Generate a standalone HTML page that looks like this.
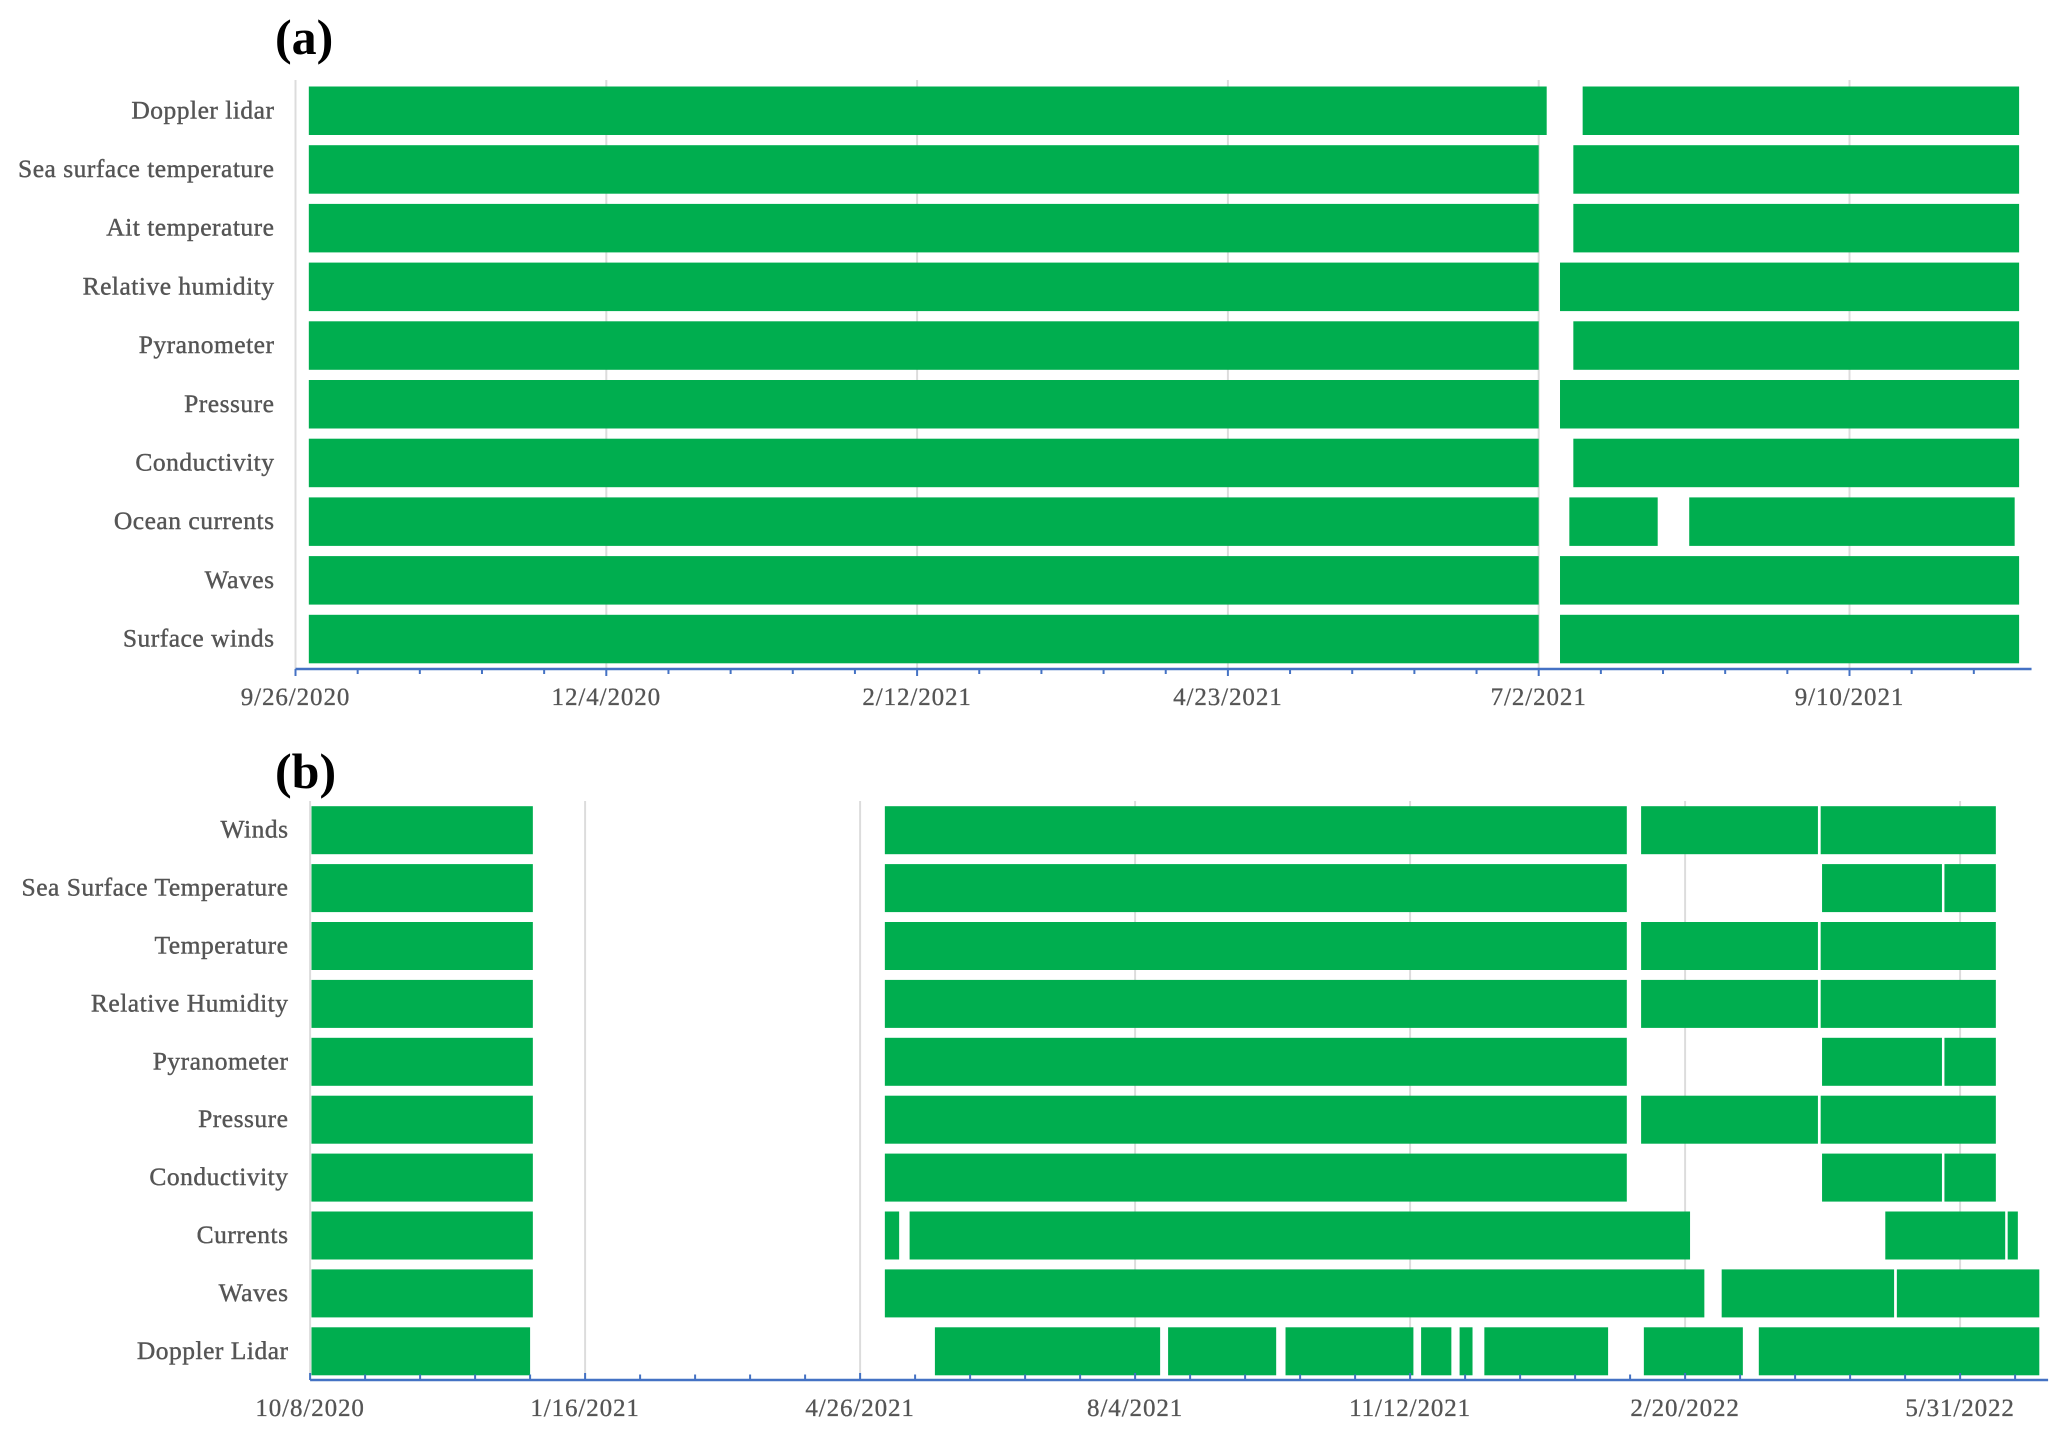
<!DOCTYPE html>
<html>
<head>
<meta charset="utf-8">
<title>Sensor data availability</title>
<style>
html,body{margin:0;padding:0;background:#fff;}
svg{display:block;}
text{font-family:"Liberation Serif",serif;}
</style>
</head>
<body>
<svg id="chart" xmlns="http://www.w3.org/2000/svg" width="2067" height="1438" viewBox="0 0 2067 1438"></svg>
<script>
// Panel (a) data: spans are days since the first axis date
const categoriesA = ["Doppler lidar","Sea surface temperature","Ait temperature","Relative humidity","Pyranometer","Pressure","Conductivity","Ocean currents","Waves","Surface winds"];
const spansA = [
  [[3,281.8],[289.9,388.2]],
  [[3,280],[287.8,388.2]],
  [[3,280],[287.8,388.2]],
  [[3,280],[284.8,388.2]],
  [[3,280],[287.8,388.2]],
  [[3,280],[284.8,388.2]],
  [[3,280],[287.8,388.2]],
  [[3,280],[286.9,306.8],[313.9,387.2]],
  [[3,280],[284.8,388.2]],
  [[3,280],[284.8,388.2]]
];
const tickLabelsA = ["9/26/2020","12/4/2020","2/12/2021","4/23/2021","7/2/2021","9/10/2021"];
const tickDaysA = [0,70,140,210,280,350];
const minorStepA = 14;
const axisMaxA = 391;

// Panel (b) data
const categoriesB = ["Winds","Sea Surface Temperature","Temperature","Relative Humidity","Pyranometer","Pressure","Conductivity","Currents","Waves","Doppler Lidar"];
const spansB = [
  [[0.5,81],[209,478.8],[484,548.3],[549.3,613]],
  [[0.5,81],[209,478.8],[549.8,593.4],[594.3,613]],
  [[0.5,81],[209,478.8],[484,548.3],[549.3,613]],
  [[0.5,81],[209,478.8],[484,548.3],[549.3,613]],
  [[0.5,81],[209,478.8],[549.8,593.4],[594.3,613]],
  [[0.5,81],[209,478.8],[484,548.3],[549.3,613]],
  [[0.5,81],[209,478.8],[549.8,593.4],[594.3,613]],
  [[0.5,81],[209,214.2],[218,501.8],[572.8,616.4],[617.3,621]],
  [[0.5,81],[209,507],[513.3,576],[577,628.8]],
  [[0.5,80],[227.2,309.1],[312,351.3],[354.7,401.2],[404,415],[418,422.7],[427,472],[485,521],[526.8,628.8]]
];
const tickLabelsB = ["10/8/2020","1/16/2021","4/26/2021","8/4/2021","11/12/2021","2/20/2022","5/31/2022"];
const tickDaysB = [0,100,200,300,400,500,600];
const minorStepB = 20;
const axisMaxB = 632;

const svg = document.getElementById('chart');
const NS = 'http://www.w3.org/2000/svg';

function make(tag, props, parent) {
  const el = document.createElementNS(NS, tag);
  for (const k in props) el.setAttribute(k, props[k]);
  parent.appendChild(el);
  return el;
}

function drawPanel(cfg) {
  const x = d => cfg.x0 + d * cfg.pxPerDay;
  const y = i => cfg.barTop + i * cfg.pitch;

  const panel = make('g', {}, svg);
  
  

  // panel letter
  const title = make('text', {x: cfg.titleX, y: cfg.titleY, 'font-size': 50, 'font-weight': 'bold', fill: '#000'}, panel);
  title.textContent = cfg.title;
  
  

  // vertical gridlines
  cfg.tickDays.forEach(d => {
    const g = make('line', {x1: x(d), x2: x(d), y1: cfg.gridTop, y2: cfg.axisY, stroke: '#dcdcdc', 'stroke-width': 2}, panel);
    
    
  });

  // bars
  cfg.spans.forEach((row, i) => {
    row.forEach(s => {
      const r = make('rect', {x: x(s[0]), y: y(i), width: x(s[1]) - x(s[0]), height: cfg.barH, fill: '#00AE4F'}, panel);
      
      
    });
  });

  // category labels
  cfg.categories.forEach((c, i) => {
    const t = make('text', {x: cfg.labelRight, y: y(i) + cfg.barH / 2 + 7.5, 'text-anchor': 'end', 'font-size': 25.5, fill: '#555555', stroke: '#555555', 'stroke-width': 0.4, 'letter-spacing': '0.5'}, panel);
    t.textContent = c;
    
    
  });

  // x axis line
  const ax = make('line', {x1: x(0), x2: x(cfg.axisMax), y1: cfg.axisY, y2: cfg.axisY, stroke: '#4472C4', 'stroke-width': 2.5}, panel);
  
  

  // ticks
  for (let d = 0; d <= cfg.axisMax; d += cfg.minorStep) {
    const major = cfg.tickDays.indexOf(d) >= 0;
    const len = (major ? cfg.majorLen : cfg.minorLen) * cfg.tickDir;
    const tk = make('line', {x1: x(d), x2: x(d), y1: cfg.axisY, y2: cfg.axisY + len, stroke: '#4472C4', 'stroke-width': 2}, panel);
    
    
  }

  // tick labels
  cfg.tickLabels.forEach((lab, i) => {
    const t = make('text', {x: x(cfg.tickDays[i]), y: cfg.tickLabelY, 'text-anchor': 'middle', 'font-size': 25, fill: '#555555', stroke: '#555555', 'stroke-width': 0.3, 'letter-spacing': '0.9'}, panel);
    t.textContent = lab;
    
    
  });
}

drawPanel({
  name: 'panel-a', title: '(a)', titleX: 275, titleY: 54,
  categories: categoriesA, spans: spansA, tickLabels: tickLabelsA, tickDays: tickDaysA,
  minorStep: minorStepA, axisMax: axisMaxA,
  x0: 295.5, pxPerDay: 4.44, barTop: 86.5, pitch: 58.7, barH: 48.5,
  gridTop: 80, axisY: 669, tickDir: 1, majorLen: 7, minorLen: 5,
  labelRight: 274.5, tickLabelY: 705
});

drawPanel({
  name: 'panel-b', title: '(b)', titleX: 275, titleY: 788,
  categories: categoriesB, spans: spansB, tickLabels: tickLabelsB, tickDays: tickDaysB,
  minorStep: minorStepB, axisMax: axisMaxB,
  x0: 310.1, pxPerDay: 2.75, barTop: 806.2, pitch: 57.9, barH: 48,
  gridTop: 801, axisY: 1380, tickDir: -1, majorLen: 7, minorLen: 5.5,
  labelRight: 288.5, tickLabelY: 1416
});
</script>
</body>
</html>
